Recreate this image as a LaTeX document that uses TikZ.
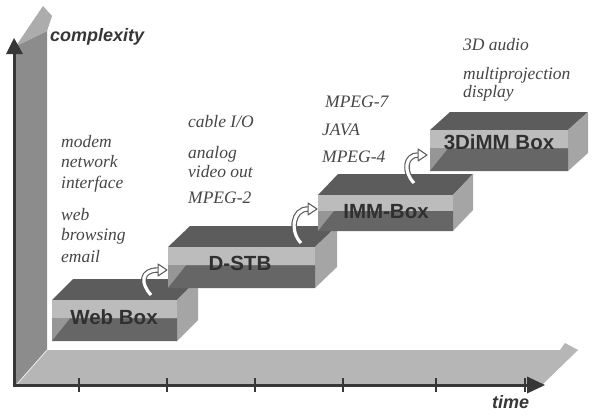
\documentclass[tikz,border=0pt]{standalone}
\usepackage{fontspec}
\setmainfont{Liberation Serif}
\setsansfont{Liberation Sans}
\definecolor{topface}{RGB}{92,92,92}
\definecolor{sideface}{RGB}{165,165,165}
\definecolor{frontlight}{RGB}{188,188,188}
\definecolor{frontmid}{RGB}{150,150,150}
\definecolor{frontdark}{RGB}{102,102,102}
\definecolor{vband}{RGB}{140,140,140}
\definecolor{hband}{RGB}{182,182,182}
\definecolor{capcol}{RGB}{172,172,172}
\definecolor{axiscol}{RGB}{55,55,55}
\definecolor{txtcol}{RGB}{70,70,70}
\definecolor{lblcol}{RGB}{48,48,48}
\definecolor{arrowedge}{RGB}{90,90,90}
\tikzset{
  note/.style={anchor=base west, inner sep=0pt, font=\fontsize{17.5bp}{20bp}\selectfont\itshape, text=txtcol},
  axlabel/.style={anchor=base west, inner sep=0pt, font=\fontsize{18bp}{20bp}\selectfont\sffamily\bfseries\itshape, text=axiscol},
  boxlabel/.style={inner sep=0pt, font=\fontsize{20.5bp}{22bp}\selectfont\sffamily\bfseries, text=lblcol},
  axisline/.style={draw=axiscol, line width=3bp},
  tickline/.style={draw=axiscol, line width=2bp},
  hookout/.style={draw=arrowedge, line width=5.5bp},
  hookin/.style={draw=white, line width=3.2bp},
  hookhead/.style={fill=white, draw=arrowedge, line width=1bp, line join=round},
}
% #1 L, #2 T, #3 R, #4 B, #5 dx, #6 dy
\newcommand{\blockbox}[6]{%
  \pgfmathsetmacro\bm{#2+0.45*(#4-#2)}%
  \fill[topface] (#1,#2) -- (#3,#2) -- ({#3+#5},{#2+#6}) -- ({#1+#5},{#2+#6}) -- cycle;
  \fill[sideface] (#3,#2) -- ({#3+#5},{#2+#6}) -- ({#3+#5},{#4+#6}) -- (#3,#4) -- cycle;
  \fill[frontlight] (#1,#2) rectangle (#3,\bm);
  \fill[frontmid] (#1,\bm) rectangle (#3,#4);
  \fill[frontdark] ({#1+0.8*(#4-\bm)},\bm) -- (#3,\bm) -- (#3,#4) -- (#1,#4) -- cycle;
}
\begin{document}
\begin{tikzpicture}[x=1bp,y=-1bp]
\useasboundingbox (0,0) rectangle (592,417);
\fill[white] (0,0) rectangle (592,417);
% bands
\fill[vband] (16,386) -- (16,46) -- (47,31) -- (47,350) -- cycle;
\fill[capcol] (16,46) -- (43,6) -- (52,16) -- (47,31) -- cycle;
\fill[hband] (16,386) -- (47,350) -- (560,350) -- (565,343) -- (578,350) -- (543,384) -- cycle;
\draw[white!85!gray, line width=0.8bp] (17,384) -- (47,350);
% axes
\coordinate (origin) at (14,386);
\coordinate (ytip) at (14,38);
\coordinate (xtip) at (545,385);
\draw[axisline] (origin) -- (14,52);
\fill[axiscol] (6,54) -- (ytip) -- (23,54) -- cycle;
\draw[axisline] (12.5,385) -- (528,385);
\fill[axiscol] (527,376.5) -- (xtip) -- (527,393.5) -- cycle;
\foreach \tx in {79,167,255,343,436,525}
  \draw[tickline] (\tx,378) -- (\tx,392);
% boxes
\blockbox{52}{300}{177}{341}{21}{-21}
\node[boxlabel] (web) at (114,317) {Web Box};
\blockbox{168}{247}{315}{288}{22}{-21}
\node[boxlabel] (dstb) at (240,263) {D-STB};
\blockbox{318}{195}{453}{231}{20}{-21}
\node[boxlabel] (imm) at (386,212) {IMM-Box};
\blockbox{430}{130}{568}{171}{20}{-18}
\node[boxlabel] (tdimm) at (499,142) {3DiMM Box};
% hook arrows
\coordinate (a1s) at (151,295);
\coordinate (a1e) at (158,270);
\draw[hookout] (a1s) .. controls (140,283) and (141,270) .. (a1e);
\draw[hookin] (a1s) .. controls (140,283) and (141,270) .. (a1e);
\filldraw[hookhead] (158,264) -- (167,270) -- (158,276) -- cycle;
\coordinate (a2s) at (301,243);
\coordinate (a2e) at (308,209);
\draw[hookout] (a2s) .. controls (290,232) and (292,209) .. (a2e);
\draw[hookin] (a2s) .. controls (290,232) and (292,209) .. (a2e);
\filldraw[hookhead] (308,203) -- (317,209) -- (308,215) -- cycle;
\coordinate (a3s) at (414,183);
\coordinate (a3e) at (418,155);
\draw[hookout] (a3s) .. controls (403,172) and (405,155) .. (a3e);
\draw[hookin] (a3s) .. controls (403,172) and (405,155) .. (a3e);
\filldraw[hookhead] (418,149) -- (427,155) -- (418,161) -- cycle;
% axis labels
\node[axlabel] (ylab) at (50,41) {complexity};
\node[axlabel] (xlab) at (492,408) {time};
% feature notes
\node[note] (t1) at (61,147) {modem};
\node[note] (t2) at (61,167) {network};
\node[note] (t3) at (61,188) {interface};
\node[note] (t4) at (61,220) {web};
\node[note] (t5) at (61,240) {browsing};
\node[note] (t6) at (61,262) {email};
\node[note] (t7) at (188,127) {cable I/O};
\node[note] (t8) at (188,158) {analog};
\node[note] (t9) at (188,177) {video out};
\node[note] (t10) at (188,203) {MPEG-2};
\node[note] (t11) at (325,107) {MPEG-7};
\node[note] (t12) at (322,135) {JAVA};
\node[note] (t13) at (322,162) {MPEG-4};
\node[note] (t14) at (463,50) {3D audio};
\node[note] (t15) at (463,79) {multiprojection};
\node[note] (t16) at (463,97) {display};
\end{tikzpicture}
\end{document}
